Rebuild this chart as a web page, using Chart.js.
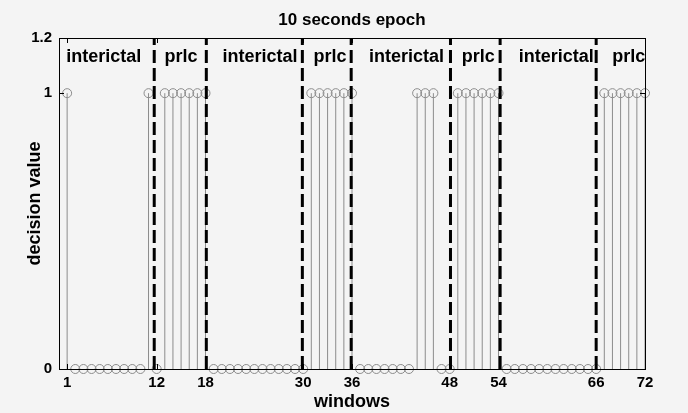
<!DOCTYPE html>
<html>
<head>
<meta charset="utf-8">
<script src="https://cdn.jsdelivr.net/npm/chart.js@4.4.1/dist/chart.umd.min.js"></script>
<style>
  html, body { margin: 0; padding: 0; background: #f4f4f4; }
  #wrap { width: 688px; height: 413px; }
</style>
</head>
<body>
<div id="wrap"><canvas id="chart"></canvas></div>
<script>
// window numbers 1..72 and the classifier decision for each
const windows = [
  1, 2, 3, 4, 5, 6, 7, 8, 9, 10, 11, 12, 13, 14, 15, 16, 17, 18,
  19, 20, 21, 22, 23, 24, 25, 26, 27, 28, 29, 30, 31, 32, 33, 34, 35, 36,
  37, 38, 39, 40, 41, 42, 43, 44, 45, 46, 47, 48, 49, 50, 51, 52, 53, 54,
  55, 56, 57, 58, 59, 60, 61, 62, 63, 64, 65, 66, 67, 68, 69, 70, 71, 72
];
const decision = [
  1, 0, 0, 0, 0, 0, 0, 0, 0, 0, 1, 0, 1, 1, 1, 1, 1, 1,
  0, 0, 0, 0, 0, 0, 0, 0, 0, 0, 0, 0, 1, 1, 1, 1, 1, 1,
  0, 0, 0, 0, 0, 0, 0, 1, 1, 1, 0, 0, 1, 1, 1, 1, 1, 1,
  0, 0, 0, 0, 0, 0, 0, 0, 0, 0, 0, 0, 1, 1, 1, 1, 1, 1
];
// dashed boundaries between interictal / prlc
const boundaries = [11.7, 18.1, 29.9, 35.9, 48.1, 54.2, 66];
const regionNames = ["interictal", "prlc", "interictal", "prlc", "interictal", "prlc", "interictal", "prlc"];
const regionCenters = [5.5, 15.0, 24.7, 33.3, 42.7, 51.5, 61.1, 70.0];
const regionLabelY = 1.13;
const xTicks = [1, 12, 18, 30, 36, 48, 54, 66, 72];
const yTicks = [0, 1, 1.2];

const FONT = "'Liberation Sans', Arial, Helvetica, sans-serif";
const stemColor = "#8c8c8c";

// stems: vertical segments from 0 up to the value, separated by gaps
const stemData = [];
windows.forEach((w, i) => {
  if (decision[i] > 0) {
    stemData.push({ x: w, y: 0 }, { x: w, y: decision[i] }, { x: w, y: null });
  }
});
const markerData = windows.map((w, i) => ({ x: w, y: decision[i] }));
const dashData = [];
boundaries.forEach(b => {
  dashData.push({ x: b, y: 0 }, { x: b, y: 1.2 }, { x: b, y: null });
});

// box round the axes, inward ticks and the region labels
const boxPlugin = {
  id: "box",
  afterDatasetsDraw(chart) {
    const { ctx, chartArea: a, scales } = chart;
    ctx.save();
    ctx.strokeStyle = "#000";
    ctx.lineWidth = 1;
    ctx.strokeRect(Math.round(a.left) + 0.5, Math.round(a.top) + 0.5,
      Math.round(a.right - a.left), Math.round(a.bottom - a.top));
    ctx.beginPath();
    xTicks.forEach(v => {
      const px = Math.round(scales.x.getPixelForValue(v)) + 0.5;
      ctx.moveTo(px, a.top); ctx.lineTo(px, a.top + 5);
      ctx.moveTo(px, a.bottom); ctx.lineTo(px, a.bottom - 5);
    });
    yTicks.forEach(v => {
      const py = Math.round(scales.y.getPixelForValue(v)) + 0.5;
      ctx.moveTo(a.left, py); ctx.lineTo(a.left + 5, py);
      ctx.moveTo(a.right, py); ctx.lineTo(a.right - 5, py);
    });
    ctx.stroke();
    ctx.fillStyle = "#000";
    ctx.font = "bold 18px " + FONT;
    ctx.textAlign = "center";
    ctx.textBaseline = "middle";
    regionNames.forEach((name, i) => {
      ctx.fillText(name, scales.x.getPixelForValue(regionCenters[i]),
        scales.y.getPixelForValue(regionLabelY));
    });
    ctx.restore();
  }
};

new Chart(document.getElementById("chart"), {
  type: "scatter",
  data: {
    datasets: [
      {
        label: "stems",
        data: stemData,
        showLine: true,
        spanGaps: false,
        borderColor: stemColor,
        borderWidth: 1,
        pointRadius: 0,
        order: 3
      },
      {
        label: "decision",
        data: markerData,
        showLine: false,
        pointStyle: "circle",
        pointRadius: 4.5,
        borderColor: stemColor,
        borderWidth: 1,
        backgroundColor: "rgba(0,0,0,0)",
        clip: false,
        order: 2
      },
      {
        label: "boundary",
        data: dashData,
        showLine: true,
        spanGaps: false,
        borderColor: "#000",
        borderWidth: 3,
        borderDash: [13, 5],
        pointRadius: 0,
        order: 1
      }
    ]
  },
  options: {
    responsive: true,
    maintainAspectRatio: false,
    animation: false,
    layout: { padding: { left: 0, right: 43, top: 0, bottom: 0 } },
    plugins: {
      legend: { display: false },
      tooltip: { enabled: false },
      title: {
        display: true,
        fullSize: false,
        text: "10 seconds epoch",
        color: "#000",
        font: { family: FONT, size: 17, weight: "bold", lineHeight: 1.2 },
        padding: { top: 10, bottom: 7.6 }
      }
    },
    scales: {
      x: {
        type: "linear",
        min: 0,
        max: 72,
        afterBuildTicks: s => { s.ticks = xTicks.map(v => ({ value: v })); },
        afterFit: s => { s.height = 44; },
        grid: { display: false, drawTicks: false },
        border: { display: false },
        ticks: {
          color: "#000",
          padding: 5,
          autoSkip: false,
          maxRotation: 0,
          font: { family: FONT, size: 15, weight: "bold" }
        },
        title: {
          display: true,
          text: "windows",
          color: "#000",
          padding: { top: 0, bottom: 0 },
          font: { family: FONT, size: 18, weight: "bold", lineHeight: 1.2 }
        }
      },
      y: {
        type: "linear",
        min: 0,
        max: 1.2,
        afterBuildTicks: s => { s.ticks = yTicks.map(v => ({ value: v })); },
        afterFit: s => { s.width = 59; },
        grid: { display: false, drawTicks: false },
        border: { display: false },
        ticks: {
          color: "#000",
          padding: 7,
          font: { family: FONT, size: 15, weight: "bold" },
          callback: v => String(v)
        },
        title: {
          display: true,
          text: "decision value",
          color: "#000",
          padding: { top: 24, bottom: 0 },
          font: { family: FONT, size: 18, weight: "bold", lineHeight: 1.2 }
        }
      }
    }
  },
  plugins: [boxPlugin]
});
</script>
</body>
</html>
